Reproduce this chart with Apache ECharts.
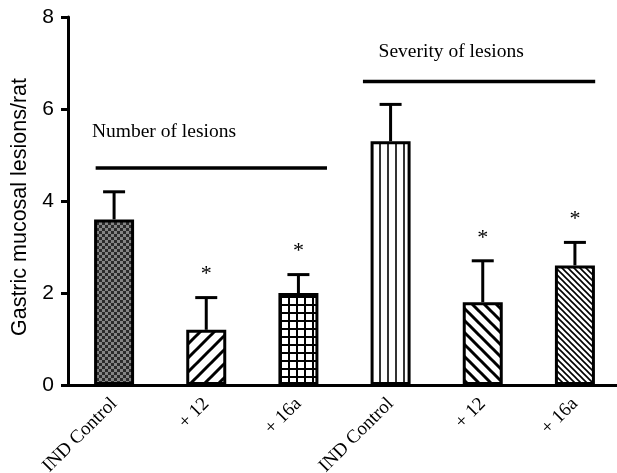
<!DOCTYPE html>
<html>
<head>
<meta charset="utf-8">
<script src="https://cdn.jsdelivr.net/npm/echarts@6/dist/echarts.min.js"></script>
<style>
  html, body { margin: 0; padding: 0; background: #fff; }
  #chart { width: 617px; height: 473px; }
</style>
</head>
<body>
<div id="chart"></div>
<script>
// Group labels along the x axis
const categories = ['IND Control', '+ 12', '+ 16a', 'IND Control', '+ 12', '+ 16a'];
// Mean lesions per rat and the upper end of the error bar (mean + SEM)
const means = [3.6, 1.2, 2.0, 5.3, 1.8, 2.6];
const upper = [4.2, 1.9, 2.4, 6.1, 2.7, 3.1];
// Significance markers
const significant = [false, true, true, false, true, true];
// Y axis ticks
const yTicks = [0, 2, 4, 6, 8];
// Panel headings over each group of three bars
const groupTitles = ['Number of lesions', 'Severity of lesions'];
const groupRanges = [[0, 2], [3, 5]];

const SERIF = '"Liberation Serif", "Times New Roman", serif';
const SANS = '"Liberation Sans", Arial, sans-serif';

function tile(w, h, draw) {
  const c = document.createElement('canvas');
  c.width = w; c.height = h;
  const ctx = c.getContext('2d');
  ctx.fillStyle = '#fff';
  ctx.fillRect(0, 0, w, h);
  ctx.strokeStyle = '#000';
  ctx.fillStyle = '#000';
  draw(ctx, w, h);
  return { image: c, repeat: 'repeat' };
}

function diag(s, lw, forward) {
  return tile(s, s, (ctx) => {
    ctx.lineWidth = lw;
    ctx.beginPath();
    for (let k = -1; k <= 1; k++) {
      if (forward) {
        ctx.moveTo(k * s - 1, s + 1);
        ctx.lineTo(k * s + s + 1, -1);
      } else {
        ctx.moveTo(k * s - 1, -1);
        ctx.lineTo(k * s + s + 1, s + 1);
      }
    }
    ctx.stroke();
  });
}

const fills = [
  // fine checkerboard
  tile(6, 6, (ctx) => {
    ctx.fillStyle = '#858585';
    ctx.fillRect(0, 0, 6, 6);
    ctx.fillStyle = '#2b2b2b';
    ctx.fillRect(0, 0, 3, 3);
    ctx.fillRect(3, 3, 3, 3);
  }),
  diag(14, 3, true),
  // square grid
  tile(8, 8, (ctx) => {
    ctx.fillRect(0, 0, 2, 8);
    ctx.fillRect(0, 0, 8, 2);
  }),
  // vertical stripes
  tile(8, 8, (ctx) => {
    ctx.fillStyle = '#333';
    ctx.fillRect(3, 0, 2, 8);
  }),
  diag(12, 3, false),
  diag(6, 1.6, false)
];

const chart = echarts.init(document.getElementById('chart'), null, { renderer: 'canvas' });

const barData = means.map((v, i) => ({
  value: v,
  itemStyle: { color: fills[i] }
}));

const errData = means.map((v, i) => [i, v, upper[i], significant[i] ? 1 : 0]);
const groupData = groupRanges.map((r, i) => [r[0], r[1], i]);

const option = {
  animation: false,
  backgroundColor: '#fff',
  // plotting area; the x axis line runs off the right edge
  grid: { left: 68, top: 17, width: 553, height: 368, outerBoundsMode: 'none' },
  xAxis: {
    type: 'category',
    data: categories,
    axisLine: { lineStyle: { color: '#000', width: 3 } },
    axisTick: { show: false },
    axisLabel: {
      rotate: 45,
      interval: 0,
      color: '#000',
      fontFamily: SERIF,
      fontSize: 19,
      margin: 16
    }
  },
  yAxis: {
    type: 'value',
    min: yTicks[0],
    max: yTicks[yTicks.length - 1],
    interval: yTicks[1] - yTicks[0],
    splitLine: { show: false },
    axisLine: { show: true, lineStyle: { color: '#000', width: 3 } },
    axisTick: { show: true, length: 7, lineStyle: { color: '#000', width: 3 } },
    axisLabel: { color: '#000', fontFamily: SANS, fontSize: 21, margin: 14 },
    name: 'Gastric mucosal lesions/rat',
    nameLocation: 'middle',
    nameGap: 37,
    nameTextStyle: { color: '#000', fontFamily: SANS, fontSize: 21.5, padding: [0, 12, 0, 0] }
  },
  series: [
    {
      type: 'bar',
      data: barData,
      barWidth: 40,
      itemStyle: { borderColor: '#000', borderWidth: 3 },
      z: 2
    },
    {
      type: 'custom',
      data: errData,
      z: 3,
      renderItem: (params, api) => {
        const x = api.value(0);
        const base = api.coord([x, api.value(1)]);
        const top = api.coord([x, api.value(2)]);
        const half = 11;
        const children = [
          { type: 'line', shape: { x1: base[0], y1: base[1], x2: top[0], y2: top[1] },
            style: { stroke: '#000', lineWidth: 3 } },
          { type: 'line', shape: { x1: top[0] - half, y1: top[1], x2: top[0] + half, y2: top[1] },
            style: { stroke: '#000', lineWidth: 3 } }
        ];
        if (api.value(3)) {
          children.push({
            type: 'text',
            style: {
              text: '*', x: top[0], y: top[1] - 23,
              fill: '#000', font: '22px ' + SERIF,
              textAlign: 'center', textVerticalAlign: 'middle'
            }
          });
        }
        return { type: 'group', children };
      }
    },
    {
      type: 'custom',
      data: groupData,
      z: 3,
      renderItem: (params, api) => {
        const band = api.size([1, 0])[0];
        const gi = api.value(2);
        const lineY = [4.72, 6.6][gi];
        const startPad = [-0.2, -0.3][gi];
        const endPad = [0.31, 0.22][gi];
        const a = api.coord([api.value(0), lineY]);
        const b = api.coord([api.value(1), lineY]);
        const x1 = a[0] + startPad * band;
        const x2 = b[0] + endPad * band;
        const textLeft = [-0.24, -0.13][gi];
        const textY = [5.5, 7.24][gi];
        const t = api.coord([api.value(0), textY]);
        return {
          type: 'group',
          children: [
            { type: 'line', shape: { x1, y1: a[1], x2, y2: a[1] },
              style: { stroke: '#000', lineWidth: 3.5 } },
            { type: 'text', style: {
                text: groupTitles[gi], x: t[0] + textLeft * band, y: t[1],
                fill: '#000', font: '19.5px ' + SERIF,
                textAlign: 'left', textVerticalAlign: 'middle' } }
          ]
        };
      }
    }
  ]
};

chart.setOption(option);
</script>
</body>
</html>
